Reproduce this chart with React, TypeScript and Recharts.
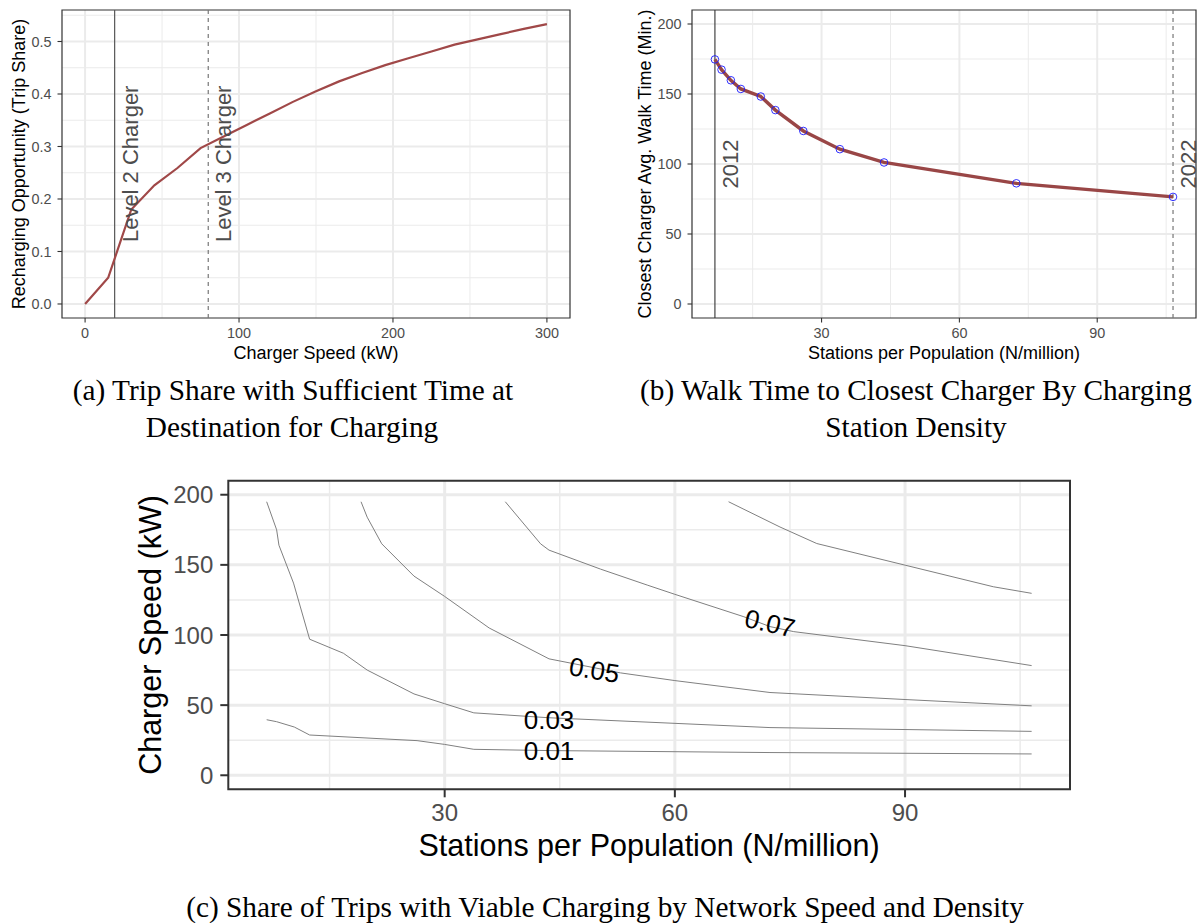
import React from 'react';
import {
  LineChart,
  Line,
  XAxis,
  YAxis,
  CartesianGrid,
  ReferenceLine,
  ReferenceArea,
  ReferenceDot,
} from 'recharts';

const FONT = '"Liberation Sans", Arial, Helvetica, sans-serif';
const SERIF = '"Liberation Serif", "Times New Roman", serif';
const RED = '#A04848';

// ---------- Panel (a) ----------
const A_SPEED = [0, 15, 30, 45, 60, 75, 90, 105, 120, 135, 150, 165, 180, 195, 210, 225, 240, 255, 270, 285, 300];
const A_SHARE = [0, 0.05, 0.18, 0.226, 0.259, 0.297, 0.319, 0.341, 0.363, 0.385, 0.405, 0.424, 0.44, 0.455, 0.468, 0.481, 0.494, 0.504, 0.514, 0.524, 0.533];
const A_X_TICKS = [0, 100, 200, 300];
const A_Y_TICKS = [0, 0.1, 0.2, 0.3, 0.4, 0.5];
const A_X_DOMAIN = [-15, 315];
const A_Y_DOMAIN = [-0.0267, 0.56];
const A_LEVEL2 = 19.2;
const A_LEVEL3 = 80;
const A_LABELS = ['Level 2 Charger', 'Level 3 Charger'];
const A_LABEL_X = [29.2, 90];
const A_LABEL_Y = [0.267, 0.267];

// ---------- Panel (b) ----------
const B_DENSITY = [6.79, 8.23, 10.26, 12.43, 16.77, 19.95, 26.03, 33.98, 43.6, 72.4, 106.5];
const B_WALK = [174.7, 167.4, 159.8, 153.6, 148.2, 138.5, 123.6, 110.6, 101.1, 86.2, 76.5];
const B_X_TICKS = [30, 60, 90];
const B_Y_TICKS = [0, 50, 100, 150, 200];
const B_X_DOMAIN = [1.8, 111.5];
const B_Y_DOMAIN = [-10, 210];
const B_YEARS = ['2012', '2022'];
const B_YEAR_X = [10.1, 109.8];
const B_YEAR_Y = [100, 100];

// ---------- Panel (c) ----------
const C_X_TICKS = [30, 60, 90];
const C_Y_TICKS = [0, 50, 100, 150, 200];
const C01_X = [6.8, 8.1, 10.4, 12.4, 26.4, 30, 33.8, 43.6, 72.4, 106.5];
const C01_Y = [39.6, 38.2, 34.4, 28.7, 24.7, 22, 18.5, 17.6, 16.2, 15.2];
const C03_X = [6.8, 8.1, 8.4, 10.3, 12.4, 16.8, 19.9, 26.0, 30, 33.8, 43.6, 72.4, 106.5];
const C03_Y = [195, 175, 164, 137, 97, 87, 75, 58, 51, 44.5, 41, 34, 31.3];
const C05_X = [19.1, 19.9, 21.8, 26.0, 30, 35.8, 43.6, 52.9, 60, 72.4, 90, 106.5];
const C05_Y = [195, 184, 165, 142, 127.5, 105, 83, 73, 67.5, 59, 54, 49.5];
const C07_X = [37.9, 42.5, 43.6, 50.3, 56.4, 60, 69, 72.4, 75.5, 90, 106.5];
const C07_Y = [195, 165, 160.5, 147, 135.6, 129, 113, 106, 102.4, 92.4, 78.2];
const C09_X = [67.0, 73.7, 78.5, 90, 101.5, 106.5];
const C09_Y = [195, 177, 165.2, 149.8, 134.4, 129.7];
const C_LABELS = ['0.01', '0.03', '0.05', '0.07'];
const C_LABEL_X = [43.6, 43.6, 49.5, 72.4];
const C_LABEL_Y = [17, 39.6, 75, 108.3];
const C_LABEL_ROT = [0, 0, 9, 13];

const zip = (xs: number[], ys: number[]) => xs.map((x, i) => ({ x, y: ys[i] }));

const minors = (ticks: number[], domain: number[]) => {
  const step = ticks[1] - ticks[0];
  const out: number[] = [];
  for (let v = ticks[0] - step / 2; v <= domain[1]; v += step) {
    if (v >= domain[0]) out.push(v);
  }
  return out;
};

const RotText = (props: any) => {
  const vb = props.viewBox || {};
  const cx = (vb.x ?? 0) + (vb.width ?? 0) / 2;
  const cy = (vb.y ?? 0) + (vb.height ?? 0) / 2;
  return (
    <text
      x={cx}
      y={cy}
      transform={`rotate(${props.rot} ${cx} ${cy})`}
      textAnchor="middle"
      dominantBaseline="central"
      fill={props.col}
      fontSize={props.fsize}
      fontFamily={FONT}
    >
      {props.txt}
    </text>
  );
};

const aData = zip(A_SPEED, A_SHARE);
const bData = zip(B_DENSITY, B_WALK);
const contours = [zip(C01_X, C01_Y), zip(C03_X, C03_Y), zip(C05_X, C05_Y), zip(C07_X, C07_Y), zip(C09_X, C09_Y)];

const tickA = { fill: '#4d4d4d', fontSize: 14.4, fontFamily: FONT };
const tickC = { fill: '#4d4d4d', fontSize: 24, fontFamily: FONT };

export default function App() {
  return (
    <div style={{ position: 'absolute', left: 0, top: 0, width: 1201, height: 923, background: '#fff', overflow: 'hidden' }}>
      {/* Panel (a) */}
      <div style={{ position: 'absolute', left: 0, top: 0 }}>
        <LineChart width={600} height={370} margin={{ top: 10, right: 30, bottom: 0, left: 0 }} data={aData}>
          <CartesianGrid
            verticalValues={minors(A_X_TICKS, A_X_DOMAIN)}
            horizontalValues={minors(A_Y_TICKS, A_Y_DOMAIN)}
            stroke="#EBEBEB"
            strokeWidth={1}
          />
          <CartesianGrid verticalValues={A_X_TICKS} horizontalValues={A_Y_TICKS} stroke="#EBEBEB" strokeWidth={2} />
          <XAxis
            type="number"
            dataKey="x"
            domain={A_X_DOMAIN}
            ticks={A_X_TICKS}
            allowDataOverflow
            interval={0}
            height={52}
            axisLine={false}
            tickSize={4.5}
            tickMargin={5}
            tickLine={{ stroke: '#333', strokeWidth: 1.1 }}
            tick={tickA}
          />
          <YAxis
            type="number"
            domain={A_Y_DOMAIN}
            ticks={A_Y_TICKS}
            allowDataOverflow
            interval={0}
            width={62}
            axisLine={false}
            tickSize={4.5}
            tickMargin={6}
            tickLine={{ stroke: '#333', strokeWidth: 1.1 }}
            tick={tickA}
            tickFormatter={(v: number) => v.toFixed(1)}
          />
          <ReferenceLine x={A_LEVEL2} stroke="#555" strokeWidth={1.2} />
          <ReferenceLine x={A_LEVEL3} stroke="#777" strokeWidth={1.2} strokeDasharray="4 4" />
          <Line type="linear" dataKey="y" stroke={RED} strokeWidth={2.2} dot={false} isAnimationActive={false} />
          <ReferenceArea
            x1={A_X_DOMAIN[0]}
            x2={A_X_DOMAIN[1]}
            y1={A_Y_DOMAIN[0]}
            y2={A_Y_DOMAIN[1]}
            fill="none"
            fillOpacity={0}
            stroke="#333"
            strokeWidth={1.2}
            ifOverflow="visible"
          />
          {A_LABELS.map((t, i) => (
            <ReferenceDot
              key={t}
              x={A_LABEL_X[i]}
              y={A_LABEL_Y[i]}
              r={0}
              fill="none"
              stroke="none"
              label={<RotText txt={t} rot={-90} fsize={22} col="#4d4d4d" />}
            />
          ))}
        </LineChart>
      </div>

      {/* Panel (b) */}
      <div style={{ position: 'absolute', left: 600, top: 0 }}>
        <LineChart width={601} height={370} margin={{ top: 10, right: 5, bottom: 0, left: 0 }} data={bData}>
          <CartesianGrid
            verticalValues={minors(B_X_TICKS, B_X_DOMAIN)}
            horizontalValues={minors(B_Y_TICKS, B_Y_DOMAIN)}
            stroke="#EBEBEB"
            strokeWidth={1}
          />
          <CartesianGrid verticalValues={B_X_TICKS} horizontalValues={B_Y_TICKS} stroke="#EBEBEB" strokeWidth={2} />
          <XAxis
            type="number"
            dataKey="x"
            domain={B_X_DOMAIN}
            ticks={B_X_TICKS}
            allowDataOverflow
            interval={0}
            height={52}
            axisLine={false}
            tickSize={4.5}
            tickMargin={5}
            tickLine={{ stroke: '#333', strokeWidth: 1.1 }}
            tick={tickA}
          />
          <YAxis
            type="number"
            domain={B_Y_DOMAIN}
            ticks={B_Y_TICKS}
            allowDataOverflow
            interval={0}
            width={92}
            axisLine={false}
            tickSize={4.5}
            tickMargin={6}
            tickLine={{ stroke: '#333', strokeWidth: 1.1 }}
            tick={tickA}
          />
          <ReferenceLine x={B_DENSITY[0]} stroke="#333" strokeWidth={1.1} />
          <ReferenceLine x={B_DENSITY[B_DENSITY.length - 1]} stroke="#777" strokeWidth={1.2} strokeDasharray="4 4" />
          <Line
            type="linear"
            dataKey="y"
            stroke="#994646"
            strokeWidth={3.4}
            dot={{ r: 3.8, stroke: '#1a1aff', strokeWidth: 0.9, fill: 'none' }}
            isAnimationActive={false}
          />
          <ReferenceArea
            x1={B_X_DOMAIN[0]}
            x2={B_X_DOMAIN[1]}
            y1={B_Y_DOMAIN[0]}
            y2={B_Y_DOMAIN[1]}
            fill="none"
            fillOpacity={0}
            stroke="#333"
            strokeWidth={1.2}
            ifOverflow="visible"
          />
          {B_YEARS.map((t, i) => (
            <ReferenceDot
              key={t}
              x={B_YEAR_X[i]}
              y={B_YEAR_Y[i]}
              r={0}
              fill="none"
              stroke="none"
              label={<RotText txt={t} rot={-90} fsize={22} col="#4d4d4d" />}
            />
          ))}
        </LineChart>
      </div>

      {/* Panel (c) */}
      <div style={{ position: 'absolute', left: 0, top: 470 }}>
        <LineChart width={1201} height={400} margin={{ top: 10.7, right: 131, bottom: 0, left: 0 }}>
          <CartesianGrid
            verticalValues={minors(C_X_TICKS, B_X_DOMAIN)}
            horizontalValues={minors(C_Y_TICKS, B_Y_DOMAIN)}
            stroke="#EBEBEB"
            strokeWidth={1.5}
          />
          <CartesianGrid verticalValues={C_X_TICKS} horizontalValues={C_Y_TICKS} stroke="#EBEBEB" strokeWidth={3} />
          <XAxis
            type="number"
            dataKey="x"
            domain={B_X_DOMAIN}
            ticks={C_X_TICKS}
            allowDataOverflow
            interval={0}
            height={80.7}
            axisLine={false}
            tickSize={8}
            tickMargin={7}
            tickLine={{ stroke: '#333', strokeWidth: 2 }}
            tick={tickC}
          />
          <YAxis
            type="number"
            domain={B_Y_DOMAIN}
            ticks={C_Y_TICKS}
            allowDataOverflow
            interval={0}
            width={228.3}
            axisLine={false}
            tickSize={8}
            tickMargin={7}
            tickLine={{ stroke: '#333', strokeWidth: 2 }}
            tick={tickC}
          />
          {contours.map((d, i) => (
            <Line
              key={i}
              data={d}
              type="linear"
              dataKey="y"
              stroke="#808080"
              strokeWidth={1}
              dot={false}
              isAnimationActive={false}
            />
          ))}
          <ReferenceArea
            x1={B_X_DOMAIN[0]}
            x2={B_X_DOMAIN[1]}
            y1={B_Y_DOMAIN[0]}
            y2={B_Y_DOMAIN[1]}
            fill="none"
            fillOpacity={0}
            stroke="#333"
            strokeWidth={2}
            ifOverflow="visible"
          />
          {C_LABELS.map((t, i) => (
            <ReferenceDot
              key={t}
              x={C_LABEL_X[i]}
              y={C_LABEL_Y[i]}
              r={0}
              fill="none"
              stroke="none"
              label={<RotText txt={t} rot={C_LABEL_ROT[i]} fsize={26} col="#000" />}
            />
          ))}
        </LineChart>
      </div>

      {/* Axis titles and captions */}
      <svg width={1201} height={923} style={{ position: 'absolute', left: 0, top: 0, pointerEvents: 'none' }}>
        <g fontFamily={FONT} fill="#000">
          <text x={19} y={164} fontSize={18} textAnchor="middle" dominantBaseline="central" transform="rotate(-90 19 164)">
            Recharging Opportunity (Trip Share)
          </text>
          <text x={316} y={353} fontSize={18} textAnchor="middle" dominantBaseline="central">
            Charger Speed (kW)
          </text>
          <text x={645} y={164} fontSize={18} textAnchor="middle" dominantBaseline="central" transform="rotate(-90 645 164)">
            Closest Charger Avg. Walk Time (Min.)
          </text>
          <text x={944} y={353} fontSize={18} textAnchor="middle" dominantBaseline="central">
            Stations per Population (N/million)
          </text>
          <text x={150} y={635} fontSize={30.5} textAnchor="middle" dominantBaseline="central" transform="rotate(-90 150 635)">
            Charger Speed (kW)
          </text>
          <text x={649} y={845} fontSize={30.5} textAnchor="middle" dominantBaseline="central">
            Stations per Population (N/million)
          </text>
        </g>
        <g fontFamily={SERIF} fill="#000" fontSize={29.3} textAnchor="middle" dominantBaseline="central">
          <text x={293} y={390}>(a) Trip Share with Sufficient Time at</text>
          <text x={292} y={427}>Destination for Charging</text>
          <text x={916} y={390}>(b) Walk Time to Closest Charger By Charging</text>
          <text x={916} y={427}>Station Density</text>
          <text x={605} y={907}>(c) Share of Trips with Viable Charging by Network Speed and Density</text>
        </g>
      </svg>
    </div>
  );
}
